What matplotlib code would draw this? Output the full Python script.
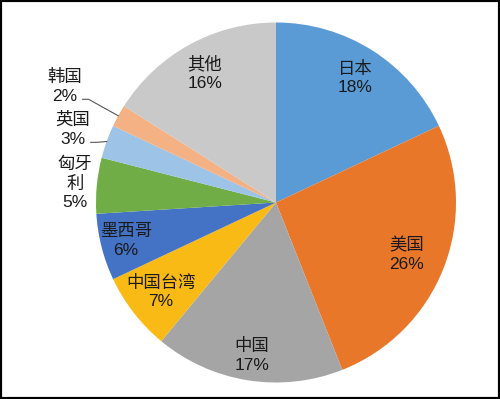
import numpy as np
import matplotlib

matplotlib.use("Agg")
import matplotlib.pyplot as plt
from matplotlib.patches import Rectangle

plt.rcParams["font.family"] = ["Liberation Sans", "Noto Sans CJK SC", "DejaVu Sans"]

# data, clockwise from 12 o'clock
names = ["日本", "美国", "中国", "中国台湾", "墨西哥", "匈牙\n利", "英国", "韩国", "其他"]
shares = [18, 26, 17, 7, 6, 5, 3, 2, 16]
colors = ["#5B9BD5", "#E8772A", "#A5A5A5", "#F9BA16", "#4472C4",
          "#70AD47", "#9DC3E6", "#F4B183", "#C9C9C9"]
# label distance as fraction of radius (outside > 1)
label_r = [0.82, 0.78, 0.86, 0.81, 0.86, 1.12, 1.2, 1.34, 0.82]
leader = [False, False, False, False, False, False, True, True, False]

W, H = 500, 399
cx, cy, R = 276, H - 202.5, 180

fig = plt.figure(figsize=(W / 100, H / 100), dpi=100)
ax = fig.add_axes([0, 0, 1, 1])

wedges, _ = ax.pie(shares, colors=colors, startangle=90, counterclock=False,
                   center=(cx, cy), radius=R, frame=True)
ax.set_xlim(0, W)
ax.set_ylim(0, H)
ax.axis("off")

total = sum(shares)
cum = np.cumsum([0] + shares)
for i, (nm, v) in enumerate(zip(names, shares)):
    mid = 90 - 360 * (cum[i] + v / 2) / total
    a = np.deg2rad(mid)
    tx = cx + label_r[i] * R * np.cos(a)
    ty = cy + label_r[i] * R * np.sin(a)
    ax.text(tx, ty, f"{nm}\n{v}%", ha="center", va="center", fontsize=12.5,
            color="#1a1a1a", linespacing=1.3)
    if leader[i]:
        ex, ey = cx + R * np.cos(a), cy + R * np.sin(a)
        sx, sy = tx + 18, ty - 13
        ax.plot([sx, sx + 6, ex], [sy, sy, ey], color="#555555", lw=0.8)

fig.patches.append(Rectangle((0, 0), 1, 1, transform=fig.transFigure,
                             fill=False, edgecolor="black", linewidth=3))
fig.savefig("out.png", dpi=100)
